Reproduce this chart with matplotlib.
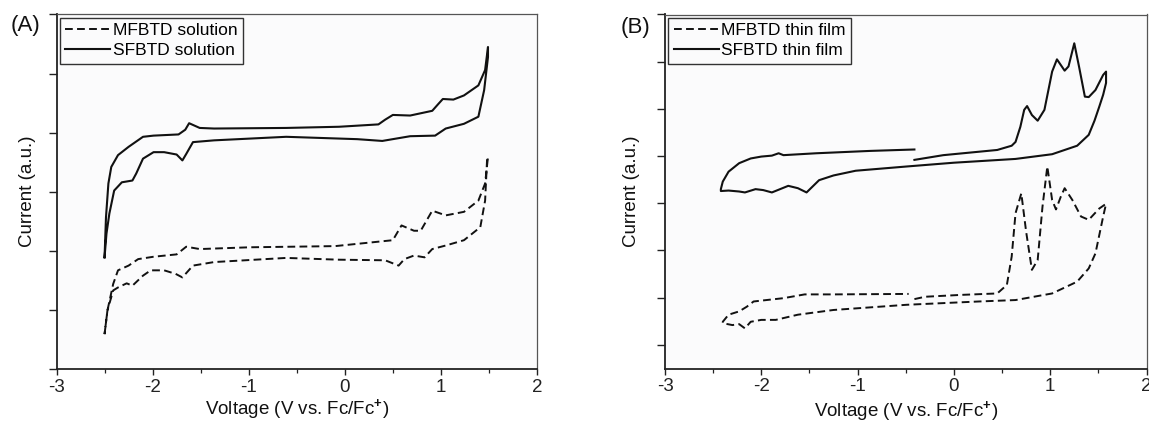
import matplotlib
matplotlib.use("Agg")
import matplotlib.pyplot as plt
from matplotlib.ticker import MultipleLocator

plt.rcParams['font.family'] = ['Liberation Sans', 'DejaVu Sans']
plt.rcParams['mathtext.fontset'] = 'custom'
plt.rcParams['mathtext.rm'] = 'Liberation Sans'
plt.rcParams['mathtext.bf'] = 'Liberation Sans:bold'
plt.rcParams['axes.unicode_minus'] = False

# ---------------- data ----------------
# Panel A: SFBTD solution (solid), closed CV loop
sf_sol_x = [-2.50, -2.485, -2.46, -2.43, -2.36, -2.25, -2.10, -1.99, -1.73, -1.66, -1.62, -1.51,
            -1.36, -0.61, -0.06, 0.35, 0.42, 0.50, 0.68, 0.91, 0.97, 1.02, 1.13, 1.24, 1.39,
            1.46, 1.49,
            1.49, 1.45, 1.39, 1.24, 1.05, 0.94, 0.68, 0.39, 0.13, -0.61, -1.36, -1.58, -1.65,
            -1.69, -1.75, -1.88, -1.99, -2.10, -2.17, -2.21, -2.32, -2.40, -2.45, -2.48, -2.50]
sf_sol_y = [1.89, 2.57, 3.14, 3.42, 3.62, 3.76, 3.93, 3.95, 3.97, 4.05, 4.16, 4.08,
            4.07, 4.08, 4.10, 4.14, 4.22, 4.30, 4.29, 4.37, 4.48, 4.57, 4.56, 4.63, 4.80,
            5.06, 5.45,
            5.28, 4.72, 4.27, 4.15, 4.07, 3.95, 3.94, 3.86, 3.89, 3.93, 3.87, 3.84, 3.64,
            3.53, 3.63, 3.67, 3.67, 3.56, 3.31, 3.19, 3.16, 3.02, 2.63, 2.29, 1.89]

# Panel A: MFBTD solution (dashed)
mf_sol_x = [-2.50, -2.47, -2.41, -2.36, -2.25, -2.15, -1.99, -1.75, -1.65, -1.51, -0.99, -0.10,
            0.50, 0.59, 0.72, 0.79, 0.91, 1.05, 1.24, 1.39, 1.46, 1.49,
            1.48, 1.46, 1.41, 1.24, 1.05, 0.91, 0.83, 0.72, 0.62, 0.56, 0.42, -0.06, -0.61,
            -1.36, -1.58, -1.69, -1.76, -1.88, -2.02, -2.10, -2.21, -2.27, -2.36, -2.41, -2.47, -2.50]
mf_sol_y = [0.59, 0.99, 1.44, 1.67, 1.75, 1.86, 1.90, 1.94, 2.07, 2.03, 2.06, 2.08,
            2.18, 2.43, 2.34, 2.34, 2.68, 2.60, 2.66, 2.85, 3.14, 3.59,
            3.53, 2.85, 2.40, 2.18, 2.09, 2.03, 1.89, 1.92, 1.86, 1.75, 1.84, 1.85, 1.88,
            1.81, 1.75, 1.55, 1.61, 1.67, 1.67, 1.58, 1.41, 1.45, 1.38, 1.33, 0.99, 0.59]

# Panel B: SFBTD thin film (solid)
sf_film_x = [-0.41, -0.11, 0.45, 0.60, 0.64, 0.69, 0.73, 0.76, 0.81, 0.87, 0.94, 1.02, 1.07,
             1.15, 1.19, 1.25, 1.30, 1.36, 1.40, 1.47, 1.55, 1.58,
             1.58, 1.55, 1.51, 1.46, 1.40, 1.28, 1.02, 0.64, 0.00, -0.49, -1.02, -1.25, -1.40,
             -1.53, -1.62, -1.72, -1.89, -1.98, -2.06, -2.17, -2.23, -2.34, -2.42,
             -2.42, -2.40, -2.34, -2.23, -2.11, -2.00, -1.89, -1.82, -1.77, -1.43, -0.87, -0.41]
sf_film_y = [3.92, 4.02, 4.13, 4.22, 4.30, 4.62, 4.98, 5.06, 4.87, 4.75, 4.98, 5.79, 6.05,
             5.81, 5.90, 6.39, 5.89, 5.26, 5.25, 5.40, 5.72, 5.79,
             5.55, 5.30, 5.05, 4.75, 4.45, 4.22, 4.04, 3.94, 3.86, 3.78, 3.69, 3.59, 3.49,
             3.23, 3.32, 3.37, 3.23, 3.28, 3.30, 3.23, 3.25, 3.27, 3.26,
             3.30, 3.46, 3.67, 3.85, 3.95, 3.99, 4.01, 4.06, 4.02, 4.06, 4.11, 4.14]

# Panel B: MFBTD thin film (dashed)
mf_film_x = [-0.41, -0.30, 0.08, 0.45, 0.55, 0.60, 0.64, 0.70, 0.75, 0.81, 0.87, 0.92, 0.97,
             1.02, 1.06, 1.11, 1.15, 1.23, 1.32, 1.40, 1.51, 1.58,
             1.58, 1.55, 1.47, 1.40, 1.28, 1.02, 0.64, 0.26, -0.49, -1.25, -1.62, -1.85, -2.00,
             -2.11, -2.17, -2.23, -2.30, -2.40,
             -2.40, -2.34, -2.23, -2.15, -2.08, -1.77, -1.55, -1.25, -0.47]
mf_film_y = [0.97, 1.02, 1.06, 1.09, 1.27, 1.87, 2.79, 3.21, 2.40, 1.59, 1.80, 2.93, 3.78,
             3.07, 2.87, 3.14, 3.32, 3.07, 2.72, 2.65, 2.89, 2.99,
             2.99, 2.72, 1.94, 1.62, 1.34, 1.09, 0.95, 0.92, 0.85, 0.74, 0.64, 0.53, 0.53,
             0.49, 0.35, 0.44, 0.42, 0.46,
             0.49, 0.64, 0.71, 0.81, 0.92, 0.99, 1.07, 1.07, 1.08]

labels_a = ['MFBTD solution', 'SFBTD solution']
labels_b = ['MFBTD thin film', 'SFBTD thin film']
xlabel = r'Voltage (V vs. Fc/Fc$^{\mathbf{+}}$)'
ylabel = 'Current (a.u.)'

# ---------------- figure ----------------
W, H = 1149, 424
fig = plt.figure(figsize=(W / 100, H / 100), dpi=100, facecolor='white')


def px_axes(l, r, t, b):
    return fig.add_axes([l / W, 1 - b / H, (r - l) / W, (b - t) / H])


ax_a = px_axes(56.5, 537, 14.5, 369)
ax_b = px_axes(665, 1146.5, 14.5, 368.5)

dash = (0, (4, 2.2))
lc = '#111111'


def style(ax, ylim, ylab_x, xlab_y):
    ax.set_facecolor('#fbfbfc')
    ax.set_xlim(-3, 2)
    ax.set_ylim(*ylim)
    ax.xaxis.set_major_locator(MultipleLocator(1))
    ax.xaxis.set_minor_locator(MultipleLocator(0.5))
    ax.yaxis.set_major_locator(MultipleLocator(1))
    ax.set_yticklabels([])
    ax.tick_params(axis='x', which='major', direction='out', length=4.5, width=1.0,
                   labelsize=13.5, pad=2.5, colors='#222222')
    ax.tick_params(axis='x', which='minor', direction='out', length=2.6, width=0.9,
                   colors='#222222')
    ax.tick_params(axis='y', which='major', direction='out', length=5.8, width=1.0,
                   colors='#222222')
    for s in ['left', 'bottom']:
        ax.spines[s].set_linewidth(1.3)
        ax.spines[s].set_color('#222222')
    for s in ['top', 'right']:
        ax.spines[s].set_linewidth(0.9)
        ax.spines[s].set_color('#555555')
    ax.set_xlabel(xlabel, fontsize=13.5, color='#111111')
    ax.set_ylabel(ylabel, fontsize=13.5, color='#111111')
    ax.xaxis.label.set_va('center')
    ax.yaxis.label.set_va('center')
    ax.xaxis.set_label_coords(0.5, xlab_y)
    ax.yaxis.set_label_coords(ylab_x, 0.5)


# Panel A
ax_a.plot(mf_sol_x, mf_sol_y, color=lc, lw=1.4, linestyle=dash, label=labels_a[0])
ax_a.plot(sf_sol_x, sf_sol_y, color=lc, lw=1.5, label=labels_a[1])
style(ax_a, (0, 6), (27.5 - 56.5) / 480.5, (369 - 410) / 354.5)

# Panel B
ax_b.plot(mf_film_x, mf_film_y, color=lc, lw=1.4, linestyle=dash, label=labels_b[0])
ax_b.plot(sf_film_x, sf_film_y, color=lc, lw=1.5, label=labels_b[1])
style(ax_b, (-0.5, 7), (632 - 665) / 481.5, (368.5 - 411.5) / 354.0)

for ax in (ax_a, ax_b):
    leg = ax.legend(loc='upper left', bbox_to_anchor=(0, 1), borderaxespad=0.2,
                    fontsize=12.5, handlelength=2.6, handletextpad=0.15, borderpad=0.3,
                    labelspacing=0.28, fancybox=False, framealpha=1, edgecolor='#333333',
                    facecolor='#fbfbfc')
    leg.get_frame().set_linewidth(1.0)

fig.text(26 / W, 1 - 26 / H, '(A)', fontsize=16, ha='center', va='center', color='#111111')
fig.text(636 / W, 1 - 28 / H, '(B)', fontsize=16, ha='center', va='center', color='#111111')

fig.savefig('out.png', dpi=100, facecolor='white')
